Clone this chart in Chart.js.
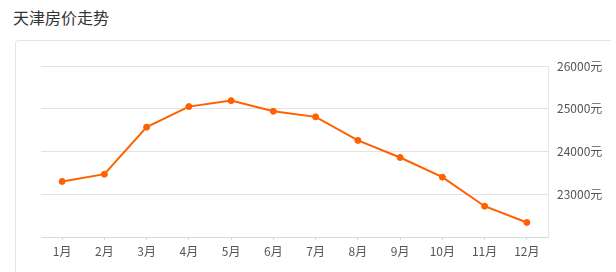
<!DOCTYPE html>
<html>
<head>
<meta charset="utf-8">
<script src="https://cdn.jsdelivr.net/npm/chart.js@4/dist/chart.umd.min.js"></script>
<style>
  body { margin: 0; background: #fff; width: 616px; height: 272px; overflow: hidden; position: relative; font-family: "Noto Sans CJK SC", "Noto Sans", sans-serif; }
  .title { position: absolute; left: 13px; top: 5px; font-size: 16px; color: #333; line-height: 24px; }
  .card { position: absolute; left: 15px; top: 40px; width: 596px; height: 260px; border: 1px solid #e5e5e5; border-right: none; border-radius: 4px 0 0 0; box-sizing: border-box; }
  #chart { position: absolute; left: 0; top: 0; }
</style>
</head>
<body>
<div class="title">天津房价走势</div>
<div class="card"></div>
<canvas id="chart" width="616" height="272"></canvas>
<script>
// 天津房价 by month
const months = ["1月", "2月", "3月", "4月", "5月", "6月", "7月", "8月", "9月", "10月", "11月", "12月"];
const prices = [23300, 23470, 24570, 25050, 25190, 24940, 24810, 24260, 23860, 23400, 22720, 22340];
const yTicks = [23000, 24000, 25000, 26000];
const yMin = 22000;
const yMax = 26000;

const font = { family: '"Noto Sans CJK SC", "Noto Sans", sans-serif', size: 12 };

const ctx = document.getElementById('chart').getContext('2d');
const chart = new Chart(ctx, {
  type: 'line',
  data: {
    labels: months,
    datasets: [{
      data: prices,
      borderColor: '#ff6000',
      backgroundColor: '#ff6000',
      borderWidth: 2,
      pointRadius: 3,
      pointBorderWidth: 1,
      pointHoverRadius: 3,
      tension: 0,
      fill: false
    }]
  },
  options: {
    responsive: false,
    animation: false,
    layout: { padding: { left: 41, top: 66, right: 0, bottom: 0 } },
    plugins: { legend: { display: false }, tooltip: { enabled: false } },
    scales: {
      x: {
        offset: true,
        grid: { drawOnChartArea: false, drawTicks: true, tickLength: 3, offset: false, color: '#d9d9d9' },
        border: { color: '#d9d9d9', width: 1 },
        ticks: { color: '#555', font: font, padding: 4, maxRotation: 0, autoSkip: false },
        afterFit: s => { s.height = 35; }
      },
      y: {
        position: 'right',
        min: yMin,
        max: yMax,
        grid: { color: '#e3e3e3', drawTicks: false },
        border: { color: '#e6e6e6', width: 1 },
        ticks: {
          stepSize: 1000,
          color: '#555',
          font: font,
          padding: 9,
          callback: v => yTicks.includes(v) ? v + '元' : ''
        },
        afterFit: s => { s.width = 68; }
      }
    }
  }
});
</script>
</body>
</html>
